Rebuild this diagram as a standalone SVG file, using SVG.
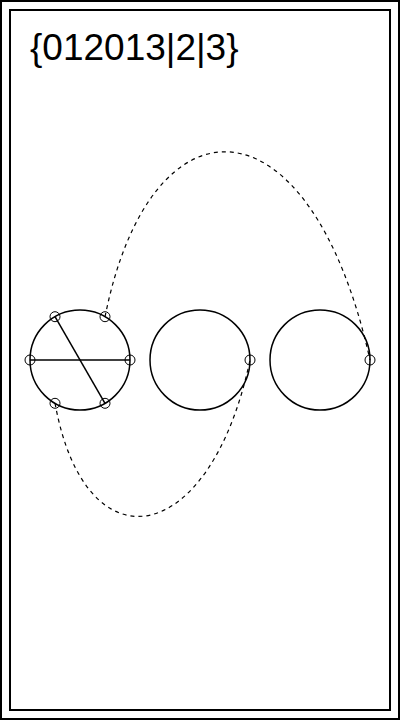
<svg xmlns="http://www.w3.org/2000/svg" width="400" height="720" viewBox="0 0 400 720">
<style>
.frame{fill:none;stroke:#000;stroke-width:2}
.big{fill:none;stroke:#000;stroke-width:1.5}
.pt{fill:none;stroke:#000;stroke-width:1}
.chord{fill:none;stroke:#000;stroke-width:1.5}
.dash{fill:none;stroke:#000;stroke-width:1.2;stroke-dasharray:4,4}
.title{font-family:"Liberation Sans",Arial,sans-serif;font-size:37px;fill:#000}
</style>
<rect fill="#fff" x="0" y="0" width="400" height="720"/>
<rect class="frame" x="1" y="1" width="398" height="718"/>
<rect class="frame" x="10" y="10" width="380" height="700"/>
<text class="title" x="30" y="60">{012013|2|3}</text>
<g id="connectors">
<path class="dash" d="M105,317 C150,90 310,90 370,360"/>
<path class="dash" d="M55,403 C85,570 210,550 250,360"/>
</g>
<g id="node0">
<circle class="big" cx="80" cy="360" r="50"/>
<line class="chord" x1="30" y1="360" x2="130" y2="360"/>
<line class="chord" x1="55" y1="316.7" x2="105" y2="403.3"/>
<circle class="pt" cx="130" cy="360" r="5"/>
<circle class="pt" cx="30" cy="360" r="5"/>
<circle class="pt" cx="105" cy="316.7" r="5"/>
<circle class="pt" cx="55" cy="316.7" r="5"/>
<circle class="pt" cx="55" cy="403.3" r="5"/>
<circle class="pt" cx="105" cy="403.3" r="5"/>
</g>
<g id="node1">
<circle class="big" cx="200" cy="360" r="50"/>
<circle class="pt" cx="250" cy="360" r="5"/>
</g>
<g id="node2">
<circle class="big" cx="320" cy="360" r="50"/>
<circle class="pt" cx="370" cy="360" r="5"/>
</g>
</svg>
